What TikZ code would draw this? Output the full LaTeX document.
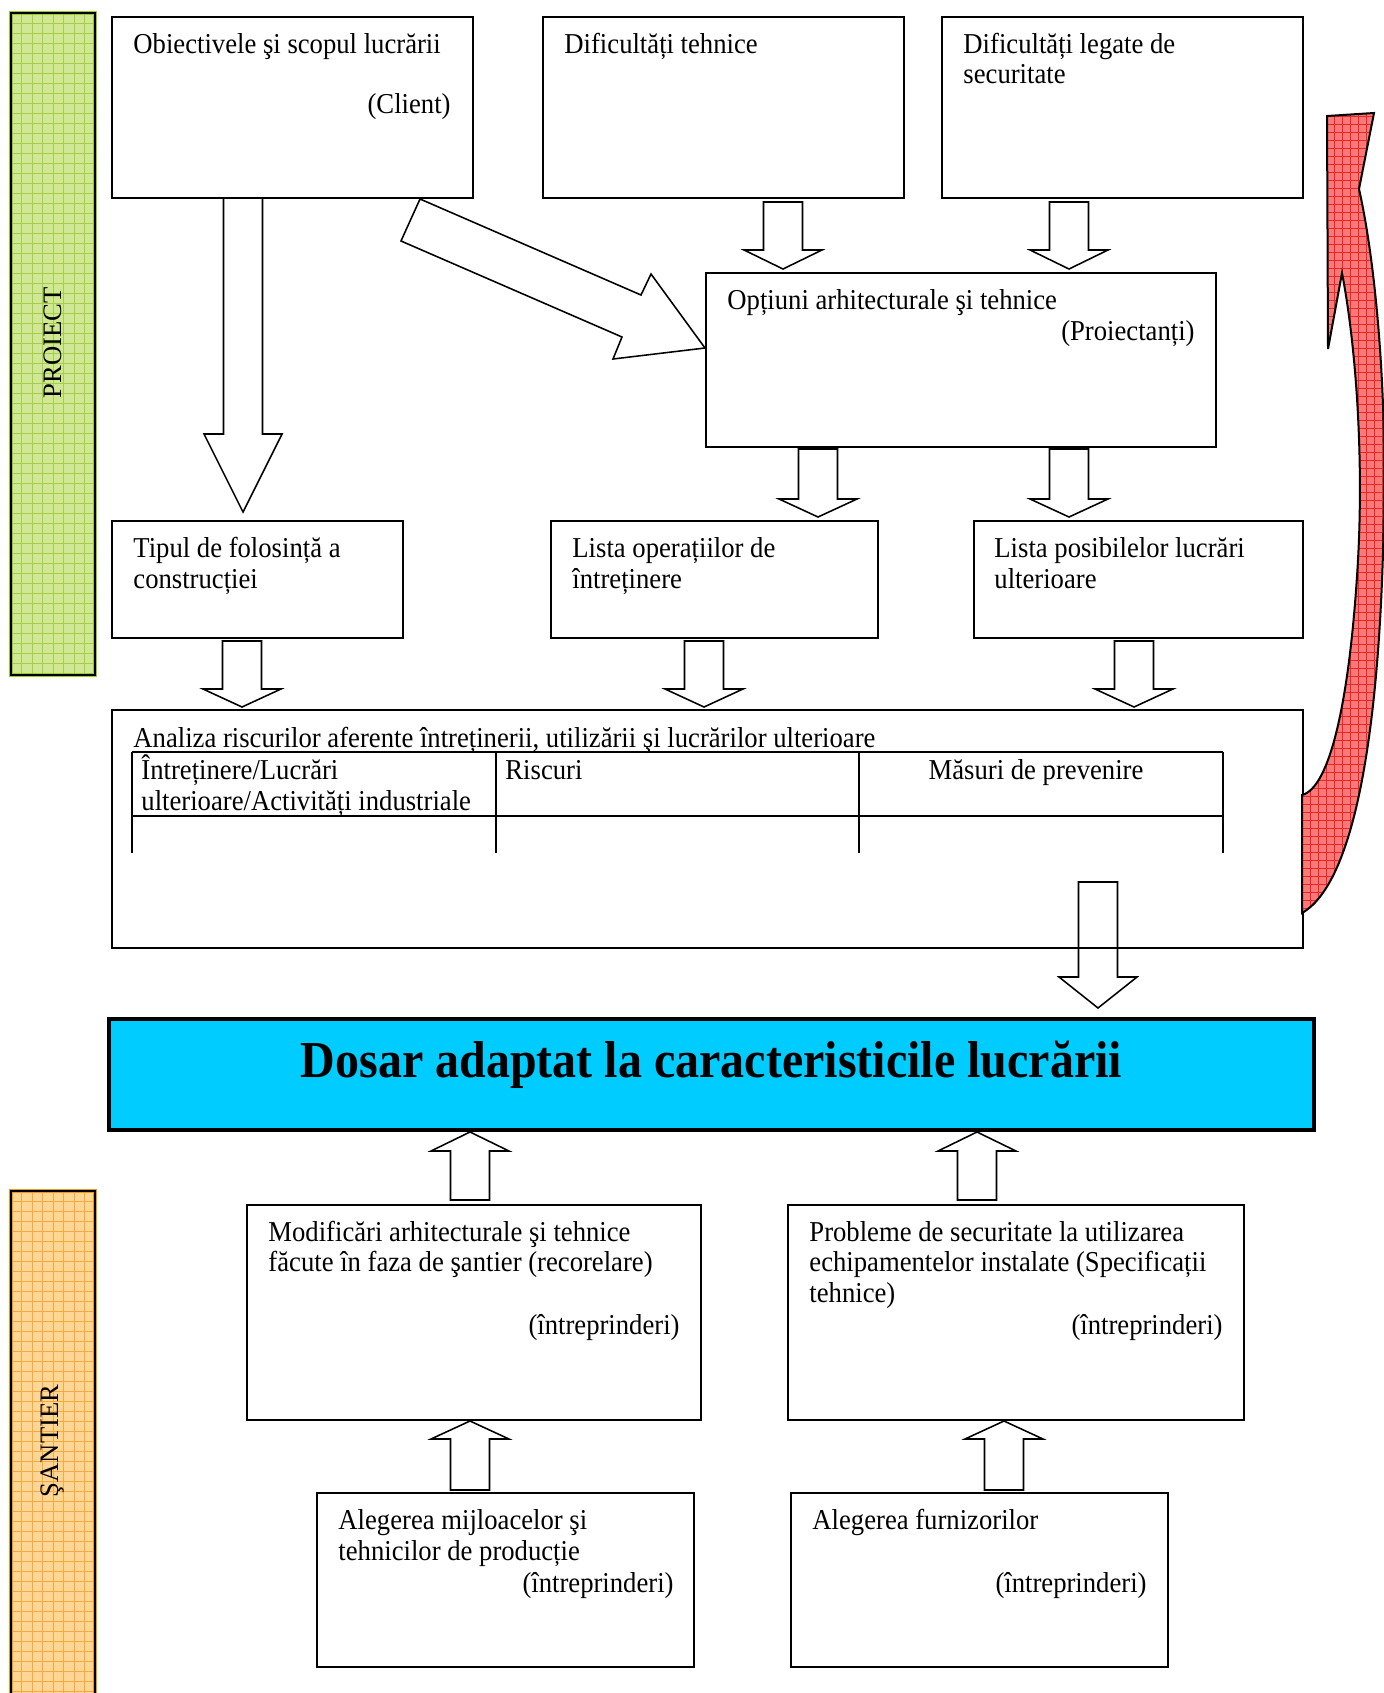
\documentclass[tikz,border=0pt]{standalone}
\usepackage{fontspec}
\setmainfont{Liberation Serif}
\usepackage{graphicx}
\usetikzlibrary{fit}
\definecolor{greenfill}{RGB}{208,232,150}
\definecolor{greengrid}{RGB}{165,208,70}
\definecolor{greenedge}{RGB}{150,200,50}
\definecolor{orangefill}{RGB}{255,214,150}
\definecolor{orangegrid}{RGB}{245,170,60}
\definecolor{orangeedge}{RGB}{240,150,30}
\definecolor{redfill}{RGB}{255,120,120}
\definecolor{redgrid}{RGB}{232,40,40}
\definecolor{dosarblue}{RGB}{0,204,255}
\newcommand\vs[1]{\scalebox{1}[1.08]{#1}}
\begin{document}
\begin{tikzpicture}[x=0.45pt,y=-0.45pt,
  box/.style={draw, line width=0.8pt, inner sep=0pt},
  blk/.style={draw, fill=white, line width=0.7pt, line join=miter},
  txt/.style={font=\fontsize{12}{13.8}\selectfont, inner sep=0pt, anchor=base west},
  txtr/.style={txt, anchor=base east},
  txtc/.style={txt, anchor=base},
  sidetxt/.style={font=\fontsize{12}{13.8}\selectfont, inner sep=0pt, rotate=90}]
\newcommand\blkarrow[4]{\draw[blk] ({#1-19.5},#2) -- ({#1+19.5},#2) -- ({#1+19.5},#3) -- ({#1+39},#3) -- (#1,#4) -- ({#1-39},#3) -- ({#1-19.5},#3) -- cycle;}
\useasboundingbox (0,0) rectangle (1384,1693);

% ---------- side bars ----------
\begin{scope}
\clip (11,13) rectangle (95,675);
\fill[greenfill] (11,13) rectangle (95,675);
\foreach \i in {1,...,66} \draw[greengrid, line width=0.35pt] (11,{13+10*\i}) -- (95,{13+10*\i});
\foreach \i in {1,...,7} \draw[greengrid, line width=0.35pt] ({11+10.5*\i},13) -- ({11+10.5*\i},675);
\end{scope}
\draw[greenedge, line width=1.8pt] (11,13) rectangle (95,675);
\draw[line width=0.9pt] (11,13) rectangle (95,675);
\node[sidetxt] (proiect) at (53,343) {PROIECT};

\begin{scope}
\clip (11,1191) rectangle (95,1700);
\fill[orangefill] (11,1191) rectangle (95,1700);
\foreach \i in {1,...,51} \draw[orangegrid, line width=0.35pt] (11,{1191+10*\i}) -- (95,{1191+10*\i});
\foreach \i in {1,...,7} \draw[orangegrid, line width=0.35pt] ({11+10.5*\i},1191) -- ({11+10.5*\i},1700);
\end{scope}
\draw[orangeedge, line width=1.8pt] (11,1700) -- (11,1191) -- (95,1191) -- (95,1700);
\draw[line width=0.9pt] (11,1700) -- (11,1191) -- (95,1191) -- (95,1700);
\node[sidetxt] (santier) at (53,1441) {ŞANTIER};

% ---------- boxes ----------
\node[box, fit={(112,17) (473,198)}] (obj) {};
\node[box, fit={(543,17) (904,198)}] (dift) {};
\node[box, fit={(942,17) (1303,198)}] (difs) {};
\node[box, fit={(706,273) (1216,447)}] (opt) {};
\node[box, fit={(112,521) (403,638)}] (tip) {};
\node[box, fit={(551,521) (878,638)}] (listop) {};
\node[box, fit={(974,521) (1303,638)}] (listpos) {};
\node[box, fit={(247,1205) (701,1420)}] (modif) {};
\node[box, fit={(788,1205) (1244,1420)}] (probl) {};
\node[box, fit={(317,1493) (694,1667)}] (alegm) {};
\node[box, fit={(791,1493) (1168,1667)}] (alegf) {};
\node[box, fill=dosarblue, line width=1.6pt, fit={(109,1019) (1314,1130)}] (dosar) {};

% ---------- block arrows ----------
\blkarrow{243}{198}{434}{512}
\draw[blk] (420,199) -- (641,295) -- (651,274) -- (705,348) -- (613,359) -- (622,337) -- (401,241) -- cycle;
\blkarrow{783}{202}{250}{269}
\blkarrow{1069}{202}{250}{269}
\blkarrow{818}{449}{499}{517}
\blkarrow{1069}{449}{499}{517}
\blkarrow{242}{641}{689}{707}
\blkarrow{704}{641}{689}{707}
\blkarrow{1134}{641}{689}{707}
\blkarrow{1098}{882}{977}{1008}
\blkarrow{470}{1200}{1151}{1132}
\blkarrow{977}{1200}{1151}{1132}
\blkarrow{470}{1490}{1439}{1421}
\blkarrow{1004}{1490}{1439}{1421}

% analysis box (drawn over the arrow tail)
\node[box, fit={(112,710) (1303,948)}] (anal) {};
\draw[line width=1.1pt] (132,752) -- (1223,752);
\draw[line width=1.1pt] (132,816) -- (1223,816);
\foreach \x in {132,496,859,1223} \draw[line width=0.6pt] (\x,752) -- (\x,853);

% ---------- red curved arrow ----------
\begin{scope}
\clip (1302,913) -- (1302,795) .. controls (1330,788) and (1350,700) .. (1358,560) .. controls (1364,450) and (1355,340) .. (1342,273) -- (1328,349) -- (1327,116) -- (1374,113) -- (1359,189) .. controls (1375,260) and (1386,380) .. (1384,500) .. controls (1382,700) and (1360,880) .. (1302,913) -- cycle;
\fill[redfill] (1290,100) rectangle (1390,930);
\foreach \i in {0,...,104} \draw[redgrid, line width=0.25pt] (1290,{108+8*\i}) -- (1390,{108+8*\i});
\foreach \i in {0,...,12} \draw[redgrid, line width=0.25pt] ({1294+8*\i},100) -- ({1294+8*\i},930);
\end{scope}
\draw[line width=0.9pt, line join=miter] (1302,913) -- (1302,795) .. controls (1330,788) and (1350,700) .. (1358,560) .. controls (1364,450) and (1355,340) .. (1342,273) -- (1328,349) -- (1327,116) -- (1374,113) -- (1359,189) .. controls (1375,260) and (1386,380) .. (1384,500) .. controls (1382,700) and (1360,880) .. (1302,913) -- cycle;

% ---------- texts ----------
\node[txt] (t-obj1) at (133,53) {\vs{Obiectivele şi scopul lucrării}};
\node[txtr] (t-obj2) at (451,113) {\vs{(Client)}};
\node[txt] (t-dift) at (564,53) {\vs{Dificultăți tehnice}};
\node[txt] (t-difs1) at (963,53) {\vs{Dificultăți legate de}};
\node[txt] (t-difs2) at (963,83) {\vs{securitate}};
\node[txt] (t-opt1) at (727,309) {\vs{Opțiuni arhitecturale şi tehnice}};
\node[txtr] (t-opt2) at (1195,340) {\vs{(Proiectanți)}};
\node[txt] (t-tip1) at (133,557) {\vs{Tipul de folosință a}};
\node[txt] (t-tip2) at (133,588) {\vs{construcției}};
\node[txt] (t-lop1) at (572,557) {\vs{Lista operațiilor de}};
\node[txt] (t-lop2) at (572,588) {\vs{întreținere}};
\node[txt] (t-lpo1) at (994,557) {\vs{Lista posibilelor lucrări}};
\node[txt] (t-lpo2) at (994,588) {\vs{ulterioare}};
\node[txt] (t-anal) at (133,747) {\vs{Analiza riscurilor aferente întreținerii, utilizării şi lucrărilor ulterioare}};
\node[txt] (t-h1a) at (141,779) {\vs{Întreținere/Lucrări}};
\node[txt] (t-h1b) at (141,810) {\vs{ulterioare/Activități industriale}};
\node[txt] (t-h2) at (505,779) {\vs{Riscuri}};
\node[txtc] (t-h3) at (1036,779) {\vs{Măsuri de prevenire}};
\node[txtc, font=\fontsize{21.6}{26}\selectfont\bfseries] (t-dosar) at (711.5,1077) {\vs{Dosar adaptat la caracteristicile lucrării}};
\node[txt] (t-mod1) at (268,1241) {\vs{Modificări arhitecturale şi tehnice}};
\node[txt] (t-mod2) at (268,1271) {\vs{făcute în faza de şantier (recorelare)}};
\node[txtr] (t-mod3) at (680,1334) {\vs{(întreprinderi)}};
\node[txt] (t-pr1) at (809,1241) {\vs{Probleme de securitate la utilizarea}};
\node[txt] (t-pr2) at (809,1271) {\vs{echipamentelor instalate (Specificații}};
\node[txt] (t-pr3) at (809,1302) {\vs{tehnice)}};
\node[txtr] (t-pr4) at (1223,1334) {\vs{(întreprinderi)}};
\node[txt] (t-am1) at (338,1529) {\vs{Alegerea mijloacelor şi}};
\node[txt] (t-am2) at (338,1560) {\vs{tehnicilor de producție}};
\node[txtr] (t-am3) at (674,1592) {\vs{(întreprinderi)}};
\node[txt] (t-af1) at (812,1529) {\vs{Alegerea furnizorilor}};
\node[txtr] (t-af2) at (1147,1592) {\vs{(întreprinderi)}};
\end{tikzpicture}
\end{document}
